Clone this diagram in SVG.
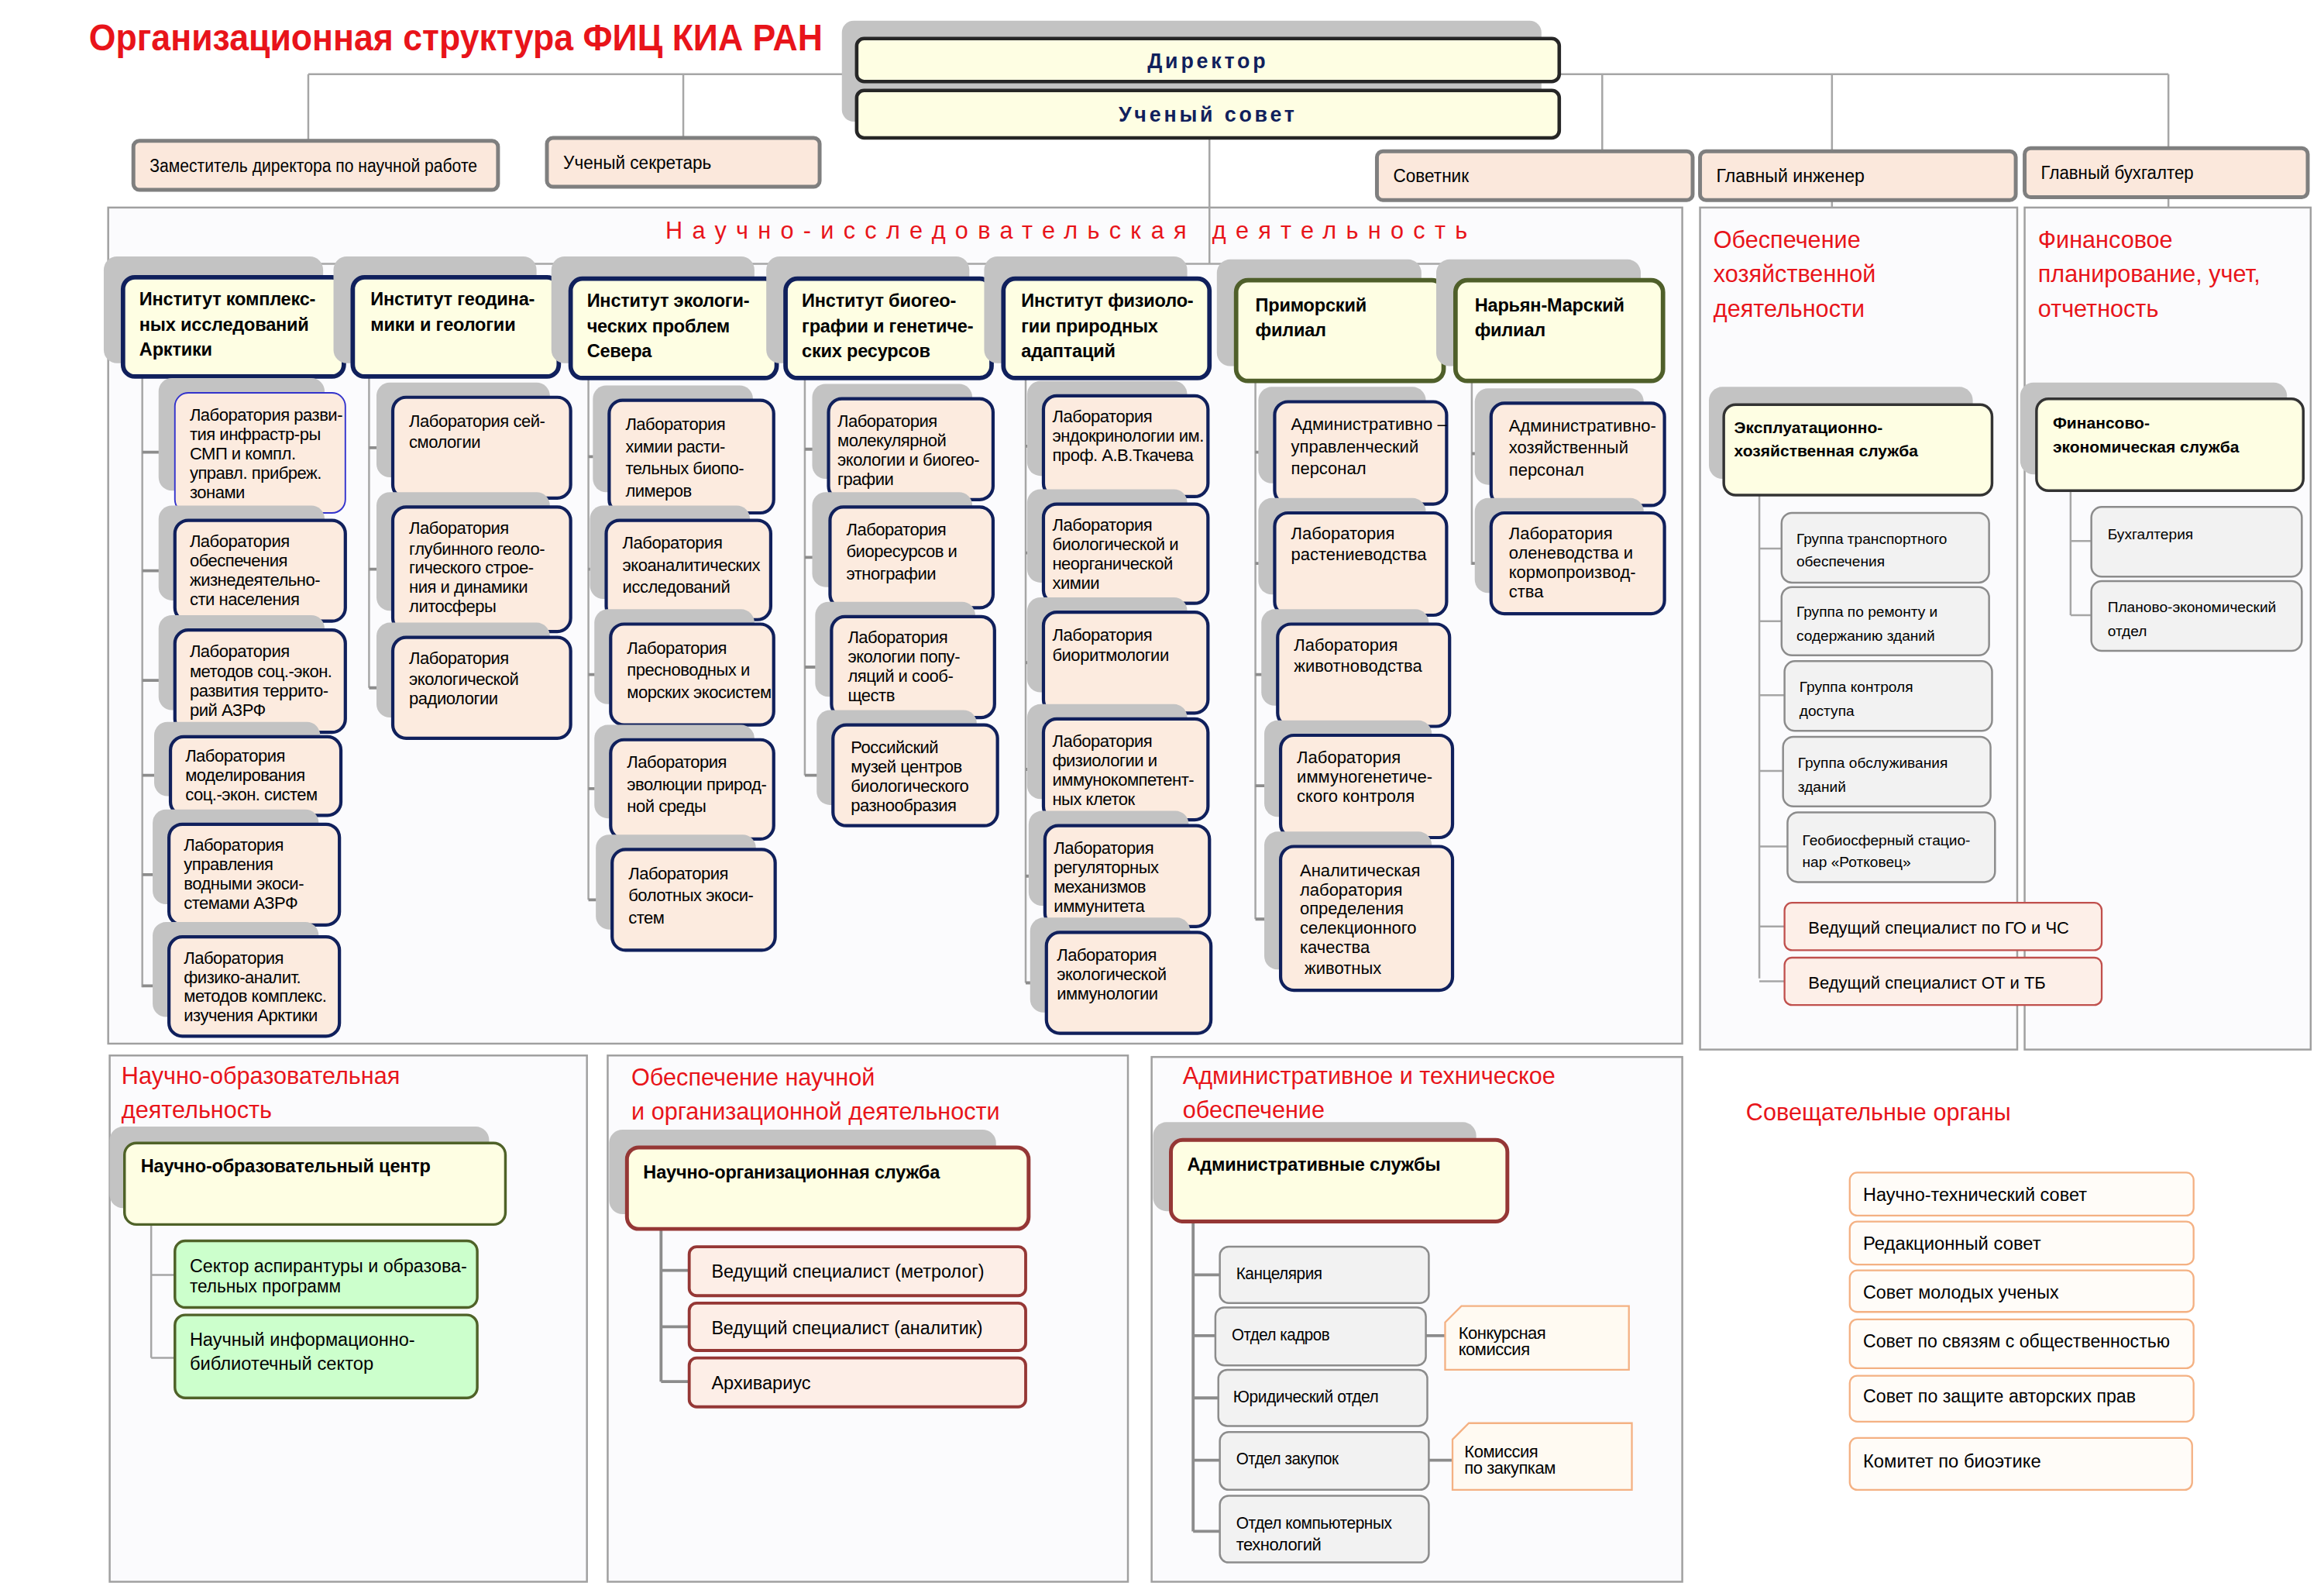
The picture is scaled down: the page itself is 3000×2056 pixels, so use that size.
<svg xmlns="http://www.w3.org/2000/svg" width="3000" height="2056" viewBox="0 0 3000 2056">
<defs>
<style>
.sh{fill:#c3c3c3}
.inst{fill:#fefee3;stroke:#10205c;stroke-width:3}
.fil{fill:#fefee3;stroke:#4f5f2a;stroke-width:3}
.lab{fill:#fcebdf;stroke:#10205c;stroke-width:2.2}
.top2{fill:#fbe8dc;stroke:#7f7f7f;stroke-width:2.6}
.boss{fill:#fefee3;stroke:#262626;stroke-width:2.4}
.sec{fill:#fbfbfd;stroke:#a0a0a0;stroke-width:1.3}
.svc{fill:#fefee3;stroke:#333;stroke-width:1.8}
.gry{fill:#f2f2f2;stroke:#8c8c8c;stroke-width:1.3}
.pnk{fill:#fdefe8;stroke:#c0504d;stroke-width:1.2}
.grn{fill:#ccffcc;stroke:#4f6228;stroke-width:1.8}
.rsv{fill:#fefee3;stroke:#953735;stroke-width:2.6}
.pnk2{fill:#fdeee7;stroke:#953735;stroke-width:2}
.org{fill:#fffcf8;stroke:#f4b183;stroke-width:1.2}
.note{fill:#fffaf2;stroke:#f4b183;stroke-width:1.2}
.ln{fill:none;stroke:#a6a6a6;stroke-width:1.3}
.tk{fill:none;stroke:#8c8c8c;stroke-width:2}
text{font-family:"Liberation Sans Narrow","Liberation Sans",Arial,sans-serif;fill:#000}
.t{font-size:11.5px;letter-spacing:-0.25px}
.ts{font-size:12.5px}
.tb{font-size:12.3px;font-weight:bold;letter-spacing:-0.1px}
.ta{font-family:"Liberation Sans",Arial,sans-serif;font-size:11.5px}
.tc{font-family:"Liberation Sans",Arial,sans-serif;font-size:10px}
.tcb{font-family:"Liberation Sans",Arial,sans-serif;font-size:11px;font-weight:bold}
.tm{font-family:"Liberation Sans",Arial,sans-serif;font-size:11.5px}
.rt{font-family:"Liberation Sans",Arial,sans-serif;font-size:16px;fill:#e8141a}
.hd{font-family:"Liberation Sans",Arial,sans-serif;font-size:14px;font-weight:bold;fill:#10205c;letter-spacing:2px}
</style>
</defs>
<g transform="scale(1.9133)">
<text x="60" y="34" style="font-size:25px;font-weight:bold;fill:#e8141a" textLength="495" lengthAdjust="spacingAndGlyphs">Организационная структура ФИЦ КИА РАН</text>

<g id="sections">
<rect class="sec" x="73" y="140" width="1062" height="564"/>
<text x="449" y="161" class="rt" textLength="541" lengthAdjust="spacing">Научно-исследовательская деятельность</text>
<rect class="sec" x="1147" y="140" width="214" height="568"/>
<text class="rt" x="1156"><tspan x="1156" y="167">Обеспечение</tspan><tspan x="1156" y="190">хозяйственной</tspan><tspan x="1156" y="214">деятельности</tspan></text>
<rect class="sec" x="1366" y="140" width="193" height="568"/>
<text class="rt" x="1375"><tspan x="1375" y="167">Финансовое</tspan><tspan x="1375" y="190">планирование, учет,</tspan><tspan x="1375" y="214">отчетность</tspan></text>
<rect class="sec" x="74" y="712" width="322" height="355"/>
<text class="rt"><tspan x="82" y="731">Научно-образовательная</tspan><tspan x="82" y="754">деятельность</tspan></text>
<rect class="sec" x="410" y="712" width="351" height="355"/>
<text class="rt"><tspan x="426" y="732">Обеспечение научной</tspan><tspan x="426" y="755">и организационной деятельности</tspan></text>
<rect class="sec" x="777" y="713" width="358" height="354"/>
<text class="rt"><tspan x="798" y="731">Административное и техническое</tspan><tspan x="798" y="754">обеспечение</tspan></text>
<text class="rt" x="1178" y="756">Совещательные органы</text>
</g>

<g id="connectors">
<path class="ln" d="M208,50H578M1052,50H1463M208,50V95M461,50V93M1081,50V102M1236,50V102M1463,50V100M1236,135V140M1463,133V140"/>
<path class="ln" d="M816,93V178M211,178H1051M211,178V187M315,178V187M461,178V187M600,178V187M750,178V187M910,178V188M1051,178V188"/>
<path class="ln" d="M96,254V666M249,254V464M397,256V607M543,256V523M692,256V663M847,258V620M993,258V381"/>
<path class="tk" d="M96,305H118M96,385H118M96,459H118M96,523H115M96,590H114M96,665H114"/>
<path class="tk" d="M249,302H265M249,384H265M249,464H265"/>
<path class="tk" d="M397,308H411M397,384H409M397,455H412M397,532H412M397,607H413"/>
<path class="tk" d="M543,303H559M543,376H559M543,450H561M543,523H562"/>
<path class="tk" d="M692,301H704M692,373H704M692,447H704M692,519H704M692,591H705M692,663H706"/>
<path class="tk" d="M847,305H860M847,380H860M847,455H862M847,530H864M847,620H864"/>
<path class="tk" d="M993,306H1006M993,380H1006"/>
<path class="ln" d="M1187,334V660M1187,370H1202M1187,419H1202M1187,469H1204M1187,520H1203M1187,571H1206M1187,625H1204M1187,662H1204"/>
<path class="ln" d="M1397,331V415M1397,365H1411M1397,415H1411"/>
<path class="ln" d="M102,826V916M102,860H118M102,916H118"/>
<path class="tk" d="M446,829V932M446,857H465M446,895H465M446,932H465"/>
<path class="tk" d="M805,824V1033M805,860H823M805,901H820M805,943H822M805,985H823M805,1033H823M962,901H975M964,985H980"/>
</g>

<g id="director">
<rect class="sh" x="568" y="14" width="472" height="68" rx="8"/>
<rect class="boss" x="578" y="26" width="474" height="29" rx="5"/>
<text class="hd" x="815" y="46" text-anchor="middle">Директор</text>
</g>
<g id="council">
<rect class="boss" x="578" y="61" width="474" height="32" rx="5"/>
<text class="hd" x="815" y="82" text-anchor="middle">Ученый совет</text>
</g>
<g id="deputy"><rect class="top2" x="90" y="95" width="246" height="33" rx="4"/><text class="ts" x="101" y="116" textLength="221" lengthAdjust="spacingAndGlyphs">Заместитель директора по научной работе</text></g>
<g id="secretary"><rect class="top2" x="369" y="93" width="184" height="33" rx="4"/><text class="ts" x="380" y="114" textLength="100" lengthAdjust="spacingAndGlyphs">Ученый секретарь</text></g>
<g id="advisor"><rect class="top2" x="929" y="102" width="213" height="33" rx="4"/><text class="ts" x="940" y="123" textLength="51" lengthAdjust="spacingAndGlyphs">Советник</text></g>
<g id="engineer"><rect class="top2" x="1147" y="102" width="213" height="33" rx="4"/><text class="ts" x="1158" y="123" textLength="100" lengthAdjust="spacingAndGlyphs">Главный инженер</text></g>
<g id="accountant"><rect class="top2" x="1366" y="100" width="191" height="33" rx="4"/><text class="ts" x="1377" y="121" textLength="103" lengthAdjust="spacingAndGlyphs">Главный бухгалтер</text></g>

<g id="inst1"><rect class="sh" x="70" y="173" width="148" height="72" rx="9"/><rect class="inst" x="83" y="187" width="149" height="67" rx="8"/><text class="tb"><tspan x="94" y="206">Институт комплекс-</tspan><tspan x="94" y="223">ных исследований</tspan><tspan x="94" y="240">Арктики</tspan></text></g>
<g id="inst2"><rect class="sh" x="225" y="173" width="137" height="72" rx="9"/><rect class="inst" x="238" y="187" width="139" height="67" rx="8"/><text class="tb"><tspan x="250" y="206">Институт геодина-</tspan><tspan x="250" y="223">мики и геологии</tspan></text></g>
<g id="inst3"><rect class="sh" x="372" y="173" width="137" height="72" rx="9"/><rect class="inst" x="385" y="188" width="139" height="67" rx="8"/><text class="tb"><tspan x="396" y="207">Институт экологи-</tspan><tspan x="396" y="224">ческих проблем</tspan><tspan x="396" y="241">Севера</tspan></text></g>
<g id="inst4"><rect class="sh" x="517" y="173" width="137" height="72" rx="9"/><rect class="inst" x="530" y="188" width="139" height="67" rx="8"/><text class="tb"><tspan x="541" y="207">Институт биогео-</tspan><tspan x="541" y="224">графии и генетиче-</tspan><tspan x="541" y="241">ских ресурсов</tspan></text></g>
<g id="inst5"><rect class="sh" x="664" y="173" width="137" height="72" rx="9"/><rect class="inst" x="677" y="188" width="139" height="67" rx="8"/><text class="tb"><tspan x="689" y="207">Институт физиоло-</tspan><tspan x="689" y="224">гии природных</tspan><tspan x="689" y="241">адаптаций</tspan></text></g>
<g id="primorsky"><rect class="sh" x="821" y="175" width="138" height="72" rx="9"/><rect class="fil" x="834" y="189" width="140" height="68" rx="8"/><text class="tb"><tspan x="847" y="210">Приморский</tspan><tspan x="847" y="227">филиал</tspan></text></g>
<g id="naryanmar"><rect class="sh" x="969" y="175" width="138" height="72" rx="9"/><rect class="fil" x="982" y="189" width="140" height="68" rx="8"/><text class="tb"><tspan x="995" y="210">Нарьян-Марский</tspan><tspan x="995" y="227">филиал</tspan></text></g>

<g id="l1a"><rect class="sh" x="107" y="255" width="112" height="76" rx="9"/><rect x="118" y="265" width="115" height="81" rx="9" style="fill:#fcebdf;stroke:#3333cc;stroke-width:1"/><text class="t"><tspan x="128" y="284">Лаборатория разви-</tspan><tspan x="128" y="297">тия инфрастр-ры</tspan><tspan x="128" y="310">СМП и компл.</tspan><tspan x="128" y="323">управл. прибреж.</tspan><tspan x="128" y="336">зонами</tspan></text></g>
<g id="l1b"><rect class="sh" x="107" y="341" width="112" height="64" rx="9"/><rect class="lab" x="118" y="351" width="115" height="68" rx="9"/><text class="t"><tspan x="128" y="369">Лаборатория</tspan><tspan x="128" y="382">обеспечения</tspan><tspan x="128" y="395">жизнедеятельно-</tspan><tspan x="128" y="408">сти населения</tspan></text></g>
<g id="l1c"><rect class="sh" x="107" y="415" width="112" height="64" rx="9"/><rect class="lab" x="118" y="425" width="115" height="69" rx="9"/><text class="t"><tspan x="128" y="443">Лаборатория</tspan><tspan x="128" y="457">методов соц.-экон.</tspan><tspan x="128" y="470">развития террито-</tspan><tspan x="128" y="483">рий АЗРФ</tspan></text></g>
<g id="l1d"><rect class="sh" x="104" y="487" width="112" height="50" rx="9"/><rect class="lab" x="115" y="497" width="115" height="53" rx="9"/><text class="t"><tspan x="125" y="514">Лаборатория</tspan><tspan x="125" y="527">моделирования</tspan><tspan x="125" y="540">соц.-экон. систем</tspan></text></g>
<g id="l1e"><rect class="sh" x="103" y="546" width="112" height="64" rx="9"/><rect class="lab" x="114" y="556" width="115" height="68" rx="9"/><text class="t"><tspan x="124" y="574">Лаборатория</tspan><tspan x="124" y="587">управления</tspan><tspan x="124" y="600">водными экоси-</tspan><tspan x="124" y="613">стемами АЗРФ</tspan></text></g>
<g id="l1f"><rect class="sh" x="103" y="622" width="112" height="64" rx="9"/><rect class="lab" x="114" y="632" width="115" height="67" rx="9"/><text class="t"><tspan x="124" y="650">Лаборатория</tspan><tspan x="124" y="663">физико-аналит.</tspan><tspan x="124" y="676">методов комплекс.</tspan><tspan x="124" y="689">изучения Арктики</tspan></text></g>
<g id="l2a"><rect class="sh" x="254" y="258" width="117" height="64" rx="9"/><rect class="lab" x="265" y="268" width="120" height="68" rx="9"/><text class="t"><tspan x="276" y="288">Лаборатория сей-</tspan><tspan x="276" y="302">смологии</tspan></text></g>
<g id="l2b"><rect class="sh" x="254" y="332" width="117" height="80" rx="9"/><rect class="lab" x="265" y="342" width="120" height="84" rx="9"/><text class="t"><tspan x="276" y="360">Лаборатория</tspan><tspan x="276" y="374">глубинного геоло-</tspan><tspan x="276" y="387">гического строе-</tspan><tspan x="276" y="400">ния и  динамики</tspan><tspan x="276" y="413">литосферы</tspan></text></g>
<g id="l2c"><rect class="sh" x="254" y="420" width="117" height="64" rx="9"/><rect class="lab" x="265" y="430" width="120" height="68" rx="9"/><text class="t"><tspan x="276" y="448">Лаборатория</tspan><tspan x="276" y="462">экологической</tspan><tspan x="276" y="475">радиологии</tspan></text></g>
<g id="l3a"><rect class="sh" x="400" y="260" width="108" height="72" rx="9"/><rect class="lab" x="411" y="270" width="111" height="76" rx="9"/><text class="t"><tspan x="422" y="290">Лаборатория</tspan><tspan x="422" y="305">химии расти-</tspan><tspan x="422" y="320">тельных биопо-</tspan><tspan x="422" y="335">лимеров</tspan></text></g>
<g id="l3b"><rect class="sh" x="398" y="341" width="108" height="63" rx="9"/><rect class="lab" x="409" y="351" width="111" height="67" rx="9"/><text class="t"><tspan x="420" y="370">Лаборатория</tspan><tspan x="420" y="385">экоаналитических</tspan><tspan x="420" y="400">исследований</tspan></text></g>
<g id="l3c"><rect class="sh" x="401" y="411" width="108" height="64" rx="9"/><rect class="lab" x="412" y="421" width="110" height="68" rx="9"/><text class="t"><tspan x="423" y="441">Лаборатория</tspan><tspan x="423" y="456">пресноводных и</tspan><tspan x="423" y="471">морских экосистем</tspan></text></g>
<g id="l3d"><rect class="sh" x="401" y="489" width="108" height="63" rx="9"/><rect class="lab" x="412" y="499" width="110" height="67" rx="9"/><text class="t"><tspan x="423" y="518">Лаборатория</tspan><tspan x="423" y="533">эволюции природ-</tspan><tspan x="423" y="548">ной среды</tspan></text></g>
<g id="l3e"><rect class="sh" x="402" y="563" width="108" height="64" rx="9"/><rect class="lab" x="413" y="573" width="110" height="68" rx="9"/><text class="t"><tspan x="424" y="593">Лаборатория</tspan><tspan x="424" y="608">болотных экоси-</tspan><tspan x="424" y="623">стем</tspan></text></g>
<g id="l4a"><rect class="sh" x="548" y="259" width="108" height="64" rx="9"/><rect class="lab" x="559" y="269" width="111" height="68" rx="9"/><text class="t"><tspan x="565" y="288">Лаборатория</tspan><tspan x="565" y="301">молекулярной</tspan><tspan x="565" y="314">экологии и биогео-</tspan><tspan x="565" y="327">графии</tspan></text></g>
<g id="l4b"><rect class="sh" x="548" y="332" width="108" height="64" rx="9"/><rect class="lab" x="560" y="342" width="110" height="68" rx="9"/><text class="t"><tspan x="571" y="361">Лаборатория</tspan><tspan x="571" y="376">биоресурсов и</tspan><tspan x="571" y="391">этнографии</tspan></text></g>
<g id="l4c"><rect class="sh" x="550" y="406" width="108" height="64" rx="9"/><rect class="lab" x="561" y="416" width="110" height="68" rx="9"/><text class="t"><tspan x="572" y="434">Лаборатория</tspan><tspan x="572" y="447">экологии попу-</tspan><tspan x="572" y="460">ляций и сооб-</tspan><tspan x="572" y="473">ществ</tspan></text></g>
<g id="l4d"><rect class="sh" x="551" y="479" width="108" height="64" rx="9"/><rect class="lab" x="562" y="489" width="111" height="68" rx="9"/><text class="t"><tspan x="574" y="508">Российский</tspan><tspan x="574" y="521">музей центров</tspan><tspan x="574" y="534">биологического</tspan><tspan x="574" y="547">разнообразия</tspan></text></g>
<g id="l5a"><rect class="sh" x="693" y="257" width="108" height="64" rx="9"/><rect class="lab" x="704" y="267" width="111" height="68" rx="9"/><text class="t"><tspan x="710" y="285">Лаборатория</tspan><tspan x="710" y="298">эндокринологии им.</tspan><tspan x="710" y="311">проф. А.В.Ткачева</tspan></text></g>
<g id="l5b"><rect class="sh" x="693" y="330" width="108" height="63" rx="9"/><rect class="lab" x="704" y="340" width="111" height="67" rx="9"/><text class="t"><tspan x="710" y="358">Лаборатория</tspan><tspan x="710" y="371">биологической и</tspan><tspan x="710" y="384">неорганической</tspan><tspan x="710" y="397">химии</tspan></text></g>
<g id="l5c"><rect class="sh" x="693" y="403" width="108" height="64" rx="9"/><rect class="lab" x="704" y="413" width="111" height="68" rx="9"/><text class="t"><tspan x="710" y="432">Лаборатория</tspan><tspan x="710" y="446">биоритмологии</tspan></text></g>
<g id="l5d"><rect class="sh" x="693" y="475" width="108" height="64" rx="9"/><rect class="lab" x="704" y="485" width="111" height="68" rx="9"/><text class="t"><tspan x="710" y="504">Лаборатория</tspan><tspan x="710" y="517">физиологии и</tspan><tspan x="710" y="530">иммунокомпетент-</tspan><tspan x="710" y="543">ных клеток</tspan></text></g>
<g id="l5e"><rect class="sh" x="694" y="547" width="108" height="64" rx="9"/><rect class="lab" x="705" y="557" width="111" height="68" rx="9"/><text class="t"><tspan x="711" y="576">Лаборатория</tspan><tspan x="711" y="589">регуляторных</tspan><tspan x="711" y="602">механизмов</tspan><tspan x="711" y="615">иммунитета</tspan></text></g>
<g id="l5f"><rect class="sh" x="695" y="619" width="108" height="64" rx="9"/><rect class="lab" x="706" y="629" width="111" height="68" rx="9"/><text class="t"><tspan x="713" y="648">Лаборатория</tspan><tspan x="713" y="661">экологической</tspan><tspan x="713" y="674">иммунологии</tspan></text></g>
<g id="l6a"><rect class="sh" x="849" y="261" width="113" height="65" rx="9"/><rect class="lab" x="860" y="271" width="116" height="69" rx="9"/><text class="ta"><tspan x="871" y="290">Административно –</tspan><tspan x="871" y="305">управленческий</tspan><tspan x="871" y="320">персонал</tspan></text></g>
<g id="l6b"><rect class="sh" x="849" y="336" width="113" height="65" rx="9"/><rect class="lab" x="860" y="346" width="116" height="69" rx="9"/><text class="ta"><tspan x="871" y="364">Лаборатория</tspan><tspan x="871" y="378">растениеводства</tspan></text></g>
<g id="l6c"><rect class="sh" x="851" y="411" width="113" height="65" rx="9"/><rect class="lab" x="862" y="421" width="116" height="69" rx="9"/><text class="ta"><tspan x="873" y="439">Лаборатория</tspan><tspan x="873" y="453">животноводства</tspan></text></g>
<g id="l6d"><rect class="sh" x="853" y="486" width="113" height="65" rx="9"/><rect class="lab" x="864" y="496" width="116" height="69" rx="9"/><text class="ta"><tspan x="875" y="515">Лаборатория</tspan><tspan x="875" y="528">иммуногенетиче-</tspan><tspan x="875" y="541">ского контроля</tspan></text></g>
<g id="l6e"><rect class="sh" x="853" y="561" width="113" height="93" rx="9"/><rect class="lab" x="864" y="571" width="116" height="97" rx="9"/><text class="ta"><tspan x="877" y="591">Аналитическая</tspan><tspan x="877" y="604">лаборатория</tspan><tspan x="877" y="617">определения</tspan><tspan x="877" y="630">селекционного</tspan><tspan x="877" y="643">качества</tspan><tspan x="877" y="657"> животных</tspan></text></g>
<g id="l7a"><rect class="sh" x="995" y="262" width="114" height="65" rx="9"/><rect class="lab" x="1006" y="272" width="117" height="69" rx="9"/><text class="ta"><tspan x="1018" y="291">Административно-</tspan><tspan x="1018" y="306">хозяйственный</tspan><tspan x="1018" y="321">персонал</tspan></text></g>
<g id="l7b"><rect class="sh" x="995" y="336" width="114" height="64" rx="9"/><rect class="lab" x="1006" y="346" width="117" height="68" rx="9"/><text class="ta"><tspan x="1018" y="364">Лаборатория</tspan><tspan x="1018" y="377">оленеводства и</tspan><tspan x="1018" y="390">кормопроизвод-</tspan><tspan x="1018" y="403">ства</tspan></text></g>

<g id="ekspl"><rect class="sh" x="1153" y="261" width="178" height="62" rx="9"/><rect class="svc" x="1163" y="273" width="181" height="61" rx="8"/><text class="tcb"><tspan x="1170" y="292">Эксплуатационно-</tspan><tspan x="1170" y="308">хозяйственная служба</tspan></text></g>
<g id="g1"><rect class="gry" x="1202" y="346" width="140" height="47" rx="7"/><text class="tc"><tspan x="1212" y="367">Группа транспортного</tspan><tspan x="1212" y="382">обеспечения</tspan></text></g>
<g id="g2"><rect class="gry" x="1202" y="396" width="140" height="46" rx="7"/><text class="tc"><tspan x="1212" y="416">Группа по ремонту и</tspan><tspan x="1212" y="432">содержанию зданий</tspan></text></g>
<g id="g3"><rect class="gry" x="1204" y="446" width="140" height="47" rx="7"/><text class="tc"><tspan x="1214" y="467">Группа контроля</tspan><tspan x="1214" y="483">доступа</tspan></text></g>
<g id="g4"><rect class="gry" x="1203" y="497" width="140" height="47" rx="7"/><text class="tc"><tspan x="1213" y="518">Группа обслуживания</tspan><tspan x="1213" y="534">зданий</tspan></text></g>
<g id="g5"><rect class="gry" x="1206" y="548" width="140" height="47" rx="7"/><text class="tc"><tspan x="1216" y="570">Геобиосферный стацио-</tspan><tspan x="1216" y="585">нар «Ротковец»</tspan></text></g>
<g id="go"><rect class="pnk" x="1204" y="609" width="214" height="32" rx="5"/><text class="tm" x="1220" y="630">Ведущий специалист по ГО и ЧС</text></g>
<g id="ot"><rect class="pnk" x="1204" y="646" width="214" height="32" rx="5"/><text class="tm" x="1220" y="667">Ведущий специалист ОТ и ТБ</text></g>
<g id="fin"><rect class="sh" x="1363" y="258" width="180" height="62" rx="9"/><rect class="svc" x="1374" y="269" width="180" height="62" rx="8"/><text class="tcb"><tspan x="1385" y="289">Финансово-</tspan><tspan x="1385" y="305">экономическая служба</tspan></text></g>
<g id="buh"><rect class="gry" x="1411" y="342" width="142" height="47" rx="7"/><text class="tc" x="1422" y="364">Бухгалтерия</text></g>
<g id="plan"><rect class="gry" x="1411" y="392" width="142" height="47" rx="7"/><text class="tc"><tspan x="1422" y="413">Планово-экономический</tspan><tspan x="1422" y="429">отдел</tspan></text></g>

<g id="noc"><rect class="sh" x="74" y="760" width="256" height="55" rx="9"/><rect class="grn" x="84" y="771" width="257" height="55" rx="8" style="fill:#fefee3"/><text class="tb" x="95" y="791">Научно-образовательный центр</text></g>
<g id="asp"><rect class="grn" x="118" y="837" width="204" height="45" rx="7"/><text class="ts"><tspan x="128" y="858" textLength="187" lengthAdjust="spacingAndGlyphs">Сектор аспирантуры и образова-</tspan><tspan x="128" y="872" textLength="102" lengthAdjust="spacingAndGlyphs">тельных программ</tspan></text></g>
<g id="lib"><rect class="grn" x="118" y="887" width="204" height="56" rx="7"/><text class="ts"><tspan x="128" y="908" textLength="152" lengthAdjust="spacingAndGlyphs">Научный информационно-</tspan><tspan x="128" y="924" textLength="124" lengthAdjust="spacingAndGlyphs">библиотечный сектор</tspan></text></g>
<g id="nos"><rect class="sh" x="411" y="762" width="261" height="57" rx="9"/><rect class="rsv" x="423" y="774" width="271" height="55" rx="8"/><text class="tb" x="434" y="795">Научно-организационная служба</text></g>
<g id="metr"><rect class="pnk2" x="465" y="841" width="227" height="33" rx="5"/><text class="ts" x="480" y="862" textLength="184" lengthAdjust="spacingAndGlyphs">Ведущий специалист (метролог)</text></g>
<g id="anal"><rect class="pnk2" x="465" y="879" width="227" height="32" rx="5"/><text class="ts" x="480" y="900" textLength="183" lengthAdjust="spacingAndGlyphs">Ведущий специалист (аналитик)</text></g>
<g id="arch"><rect class="pnk2" x="465" y="916" width="227" height="33" rx="5"/><text class="ts" x="480" y="937" textLength="67" lengthAdjust="spacingAndGlyphs">Архивариус</text></g>
<g id="adm"><rect class="sh" x="778" y="757" width="218" height="60" rx="9"/><rect class="rsv" x="790" y="769" width="227" height="55" rx="8"/><text class="tb" x="801" y="790">Административные службы</text></g>
<g id="kanc"><rect class="gry" x="823" y="841" width="141" height="38" rx="6"/><text class="t" x="834" y="863" textLength="58" lengthAdjust="spacingAndGlyphs">Канцелярия</text></g>
<g id="kadr"><rect class="gry" x="820" y="882" width="142" height="39" rx="6"/><text class="t" x="831" y="904" textLength="66" lengthAdjust="spacingAndGlyphs">Отдел кадров</text></g>
<g id="yur"><rect class="gry" x="822" y="924" width="141" height="38" rx="6"/><text class="t" x="832" y="946" textLength="98" lengthAdjust="spacingAndGlyphs">Юридический отдел</text></g>
<g id="zak"><rect class="gry" x="823" y="966" width="141" height="39" rx="6"/><text class="t" x="834" y="988" textLength="69" lengthAdjust="spacingAndGlyphs">Отдел закупок</text></g>
<g id="komp"><rect class="gry" x="823" y="1009" width="141" height="45" rx="6"/><text class="t"><tspan x="834" y="1031" textLength="105" lengthAdjust="spacingAndGlyphs">Отдел компьютерных</tspan><tspan x="834" y="1046">технологий</tspan></text></g>
<g id="konk"><path class="note" d="M986,881H1099V924H975V892Z"/><text class="t"><tspan x="984" y="903">Конкурсная</tspan><tspan x="984" y="914">комиссия</tspan></text></g>
<g id="kzak"><path class="note" d="M991,960H1101V1005H980V971Z"/><text class="t"><tspan x="988" y="983">Комиссия</tspan><tspan x="988" y="994">по закупкам</tspan></text></g>
<g id="s1"><rect class="org" x="1248" y="791" width="232" height="29" rx="5"/><text class="ts" x="1257" y="810" textLength="151" lengthAdjust="spacingAndGlyphs">Научно-технический совет</text></g>
<g id="s2"><rect class="org" x="1248" y="824" width="232" height="29" rx="5"/><text class="ts" x="1257" y="843" textLength="120" lengthAdjust="spacingAndGlyphs">Редакционный совет</text></g>
<g id="s3"><rect class="org" x="1248" y="857" width="232" height="28" rx="5"/><text class="ts" x="1257" y="876" textLength="132" lengthAdjust="spacingAndGlyphs">Совет молодых ученых</text></g>
<g id="s4"><rect class="org" x="1248" y="890" width="232" height="33" rx="5"/><text class="ts" x="1257" y="909" textLength="207" lengthAdjust="spacingAndGlyphs">Совет по связям с общественностью</text></g>
<g id="s5"><rect class="org" x="1248" y="928" width="232" height="31" rx="5"/><text class="ts" x="1257" y="946" textLength="184" lengthAdjust="spacingAndGlyphs">Совет по защите авторских прав</text></g>
<g id="s6"><rect class="org" x="1248" y="970" width="231" height="35" rx="5"/><text class="ts" x="1257" y="990" textLength="120" lengthAdjust="spacingAndGlyphs">Комитет по биоэтике</text></g>
</g>
</svg>
